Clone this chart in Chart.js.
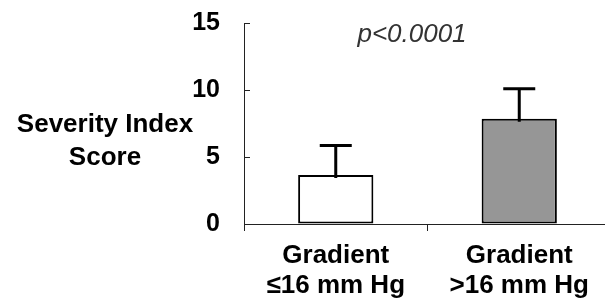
<!DOCTYPE html>
<html>
<head>
<meta charset="utf-8">
<script src="https://cdn.jsdelivr.net/npm/chart.js@4/dist/chart.umd.min.js"></script>
<style>
html,body{margin:0;padding:0;background:#fff;overflow:hidden;width:605px;height:301px;}
canvas{display:block;}
</style>
</head>
<body>
<canvas id="c" width="615" height="301"></canvas>
<script>
const categories = [["Gradient", "≤16 mm Hg"], ["Gradient", ">16 mm Hg"]];
const means = [3.65, 7.85];
const errors = [2.2, 2.25];
const barColors = ["#ffffff", "#969696"];
const yTicks = [0, 5, 10, 15];
const yTitle = ["Severity Index", "Score"];
const pText = "p<0.0001";

const FONT = "'Liberation Sans', Arial, sans-serif";

const extras = {
  id: "extras",
  afterDatasetsDraw(chart) {
    const ctx = chart.ctx;
    const ys = chart.scales.y;
    const meta = chart.getDatasetMeta(0);
    ctx.save();
    // error bars
    ctx.strokeStyle = "#000";
    ctx.lineWidth = 3;
    meta.data.forEach((bar, i) => {
      const x = bar.x;
      const y0 = ys.getPixelForValue(means[i]);
      const y1 = ys.getPixelForValue(means[i] + errors[i]);
      ctx.beginPath();
      ctx.moveTo(x, y0 + 3);
      ctx.lineTo(x, y1);
      ctx.moveTo(x - 16, y1);
      ctx.lineTo(x + 16, y1);
      ctx.stroke();
    });
    // inward y ticks
    ctx.lineWidth = 1;
    ctx.strokeStyle = "#222";
    const ax = chart.chartArea.left;
    yTicks.forEach(v => {
      const y = Math.round(ys.getPixelForValue(v)) + 0.5;
      ctx.beginPath();
      ctx.moveTo(ax, y);
      ctx.lineTo(ax + 6, y);
      ctx.stroke();
    });
    // y title
    ctx.fillStyle = "#000";
    ctx.font = "bold 26px " + FONT;
    ctx.textAlign = "center";
    ctx.textBaseline = "middle";
    ctx.fillText(yTitle[0], 105, 125);
    ctx.fillText(yTitle[1], 105, 158);
    // p value
    ctx.fillStyle = "#333";
    ctx.font = "italic 26px " + FONT;
    ctx.fillText(pText, 412, 35);
    ctx.restore();
  }
};

new Chart(document.getElementById("c"), {
  type: "bar",
  data: {
    labels: categories,
    datasets: [{
      data: means,
      backgroundColor: barColors,
      borderColor: "#000",
      borderWidth: 2,
      borderSkipped: false,
      categoryPercentage: 1,
      barPercentage: 0.41
    }]
  },
  options: {
    responsive: false,
    animation: false,
    layout: { padding: { top: 23, right: 4, left: 0, bottom: 0 } },
    plugins: { legend: { display: false }, tooltip: { enabled: false } },
    scales: {
      y: {
        min: 0, max: 15,
        afterFit(s) { s.width = 244; s.paddingTop = 0; s.paddingBottom = 0; },
        afterBuildTicks(s) { s.ticks = yTicks.map(v => ({ value: v })); },
        ticks: { color: "#000", padding: 24, font: { family: FONT, size: 25, weight: "bold" } },
        grid: { display: true, drawOnChartArea: false, drawTicks: false },
        border: { display: true, color: "#222", width: 1 }
      },
      x: {
        afterFit(s) { s.height = 77; s.paddingLeft = 0; s.paddingRight = 0; },
        ticks: { color: "#000", padding: 10, font: { family: FONT, size: 26, weight: "bold", lineHeight: 1.15 } },
        grid: { display: true, offset: true, drawOnChartArea: false, drawTicks: true, tickLength: 7, color: "#222" },
        border: { display: true, color: "#222", width: 1 }
      }
    }
  },
  plugins: [extras]
});
</script>
</body>
</html>
